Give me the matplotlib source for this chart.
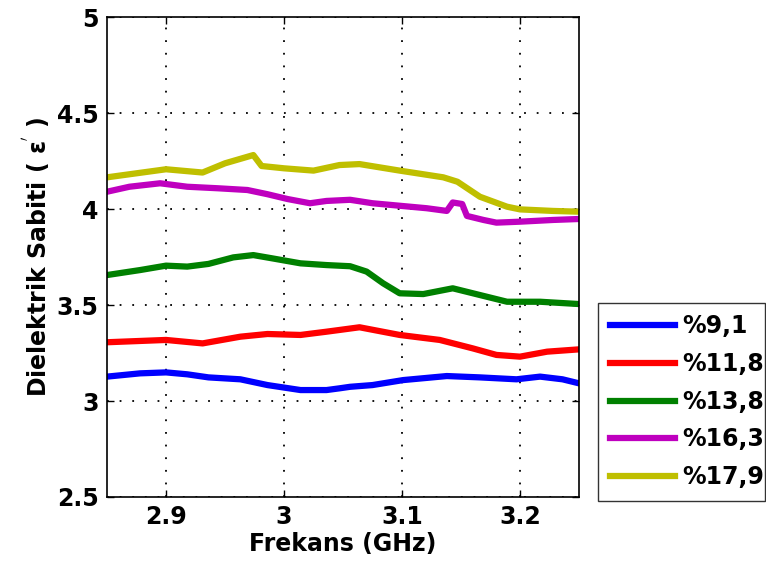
import numpy as np
import matplotlib
matplotlib.use('Agg')
import matplotlib.pyplot as plt

# Frequency points (GHz) and dielectric constant readings per concentration
freq_91 = [2.85, 2.878, 2.90, 2.918, 2.936, 2.963, 2.986, 3.014, 3.036, 3.047, 3.056, 3.075, 3.101, 3.138, 3.166, 3.197, 3.217, 3.236, 3.25]
eps_91 = [3.127, 3.144, 3.149, 3.139, 3.123, 3.113, 3.083, 3.057, 3.057, 3.066, 3.074, 3.083, 3.109, 3.130, 3.123, 3.113, 3.127, 3.113, 3.092]

freq_118 = [2.85, 2.90, 2.931, 2.963, 2.986, 3.014, 3.036, 3.047, 3.064, 3.098, 3.132, 3.160, 3.180, 3.200, 3.223, 3.25]
eps_118 = [3.306, 3.318, 3.300, 3.335, 3.349, 3.344, 3.361, 3.370, 3.384, 3.344, 3.318, 3.274, 3.240, 3.231, 3.257, 3.269]

freq_138 = [2.85, 2.878, 2.90, 2.918, 2.936, 2.957, 2.974, 2.990, 3.014, 3.036, 3.056, 3.070, 3.084, 3.098, 3.118, 3.143, 3.166, 3.189, 3.217, 3.25]
eps_138 = [3.656, 3.682, 3.705, 3.700, 3.714, 3.748, 3.760, 3.743, 3.717, 3.708, 3.702, 3.674, 3.613, 3.561, 3.557, 3.587, 3.552, 3.517, 3.517, 3.505]

freq_163 = [2.85, 2.869, 2.895, 2.918, 2.944, 2.969, 2.986, 3.003, 3.022, 3.036, 3.056, 3.075, 3.098, 3.121, 3.138, 3.143, 3.151, 3.155, 3.169, 3.180, 3.200, 3.228, 3.25]
eps_163 = [4.090, 4.116, 4.134, 4.116, 4.108, 4.099, 4.077, 4.052, 4.030, 4.042, 4.048, 4.030, 4.017, 4.004, 3.990, 4.034, 4.026, 3.964, 3.943, 3.929, 3.934, 3.943, 3.948]

freq_179 = [2.85, 2.90, 2.931, 2.950, 2.974, 2.981, 3.000, 3.025, 3.047, 3.064, 3.098, 3.135, 3.147, 3.166, 3.189, 3.200, 3.228, 3.25]
eps_179 = [4.165, 4.207, 4.190, 4.238, 4.281, 4.224, 4.212, 4.200, 4.229, 4.234, 4.200, 4.165, 4.142, 4.064, 4.012, 3.998, 3.990, 3.986]

labels = ['%9,1', '%11,8', '%13,8', '%16,3', '%17,9']
colors = ['#0000ff', '#ff0000', '#008000', '#bf00bf', '#bfbf00']

plt.rcParams['font.family'] = ['DejaVu Sans']
plt.rcParams['font.weight'] = 'bold'
plt.rcParams['mathtext.fontset'] = 'dejavusans'

fig = plt.figure(figsize=(7.66, 5.71), dpi=100)
ax = fig.add_axes([0.1397, 0.1296, 0.6162, 0.8406])

series = [(freq_91, eps_91), (freq_118, eps_118), (freq_138, eps_138),
          (freq_163, eps_163), (freq_179, eps_179)]
for (f, e), lab, c in zip(series, labels, colors):
    ax.plot(f, e, color=c, lw=4.5, label=lab, solid_joinstyle='round')

ax.set_xlim(2.85, 3.25)
ax.set_ylim(2.5, 5)
ax.set_xticks([2.9, 3.0, 3.1, 3.2])
ax.set_xticklabels(['2.9', '3', '3.1', '3.2'])
ax.set_yticks([2.5, 3, 3.5, 4, 4.5, 5])
ax.set_yticklabels(['2.5', '3', '3.5', '4', '4.5', '5'])
ax.tick_params(direction='in', labelsize=17, length=5, width=1, top=True, right=True, pad=6)
for lbl in ax.get_xticklabels() + ax.get_yticklabels():
    lbl.set_fontweight('bold')
ax.grid(True, color='black', linestyle=(0, (1, 6)), linewidth=1.3)
for s in ax.spines.values():
    s.set_linewidth(1.2)

ax.set_xlabel('Frekans (GHz)', fontsize=17, fontweight='bold', labelpad=2)
ax.set_ylabel(r"Dielektrik Sabiti ( $\mathbf{\varepsilon}^{'}$ )", fontsize=17, fontweight='bold', labelpad=3)

leg = fig.legend(loc='lower left', bbox_to_anchor=(598 / 766, 1 - 501 / 571, 167 / 766, 196 / 571),
                 mode='expand', fontsize=17, frameon=True, fancybox=False,
                 handlelength=2.75, handletextpad=0.3, borderpad=0.5, labelspacing=0.58,
                 borderaxespad=0)
leg.get_frame().set_edgecolor('black')
leg.get_frame().set_linewidth(1)
for t in leg.get_texts():
    t.set_fontweight('bold')

fig.savefig('out.png', dpi=100)
